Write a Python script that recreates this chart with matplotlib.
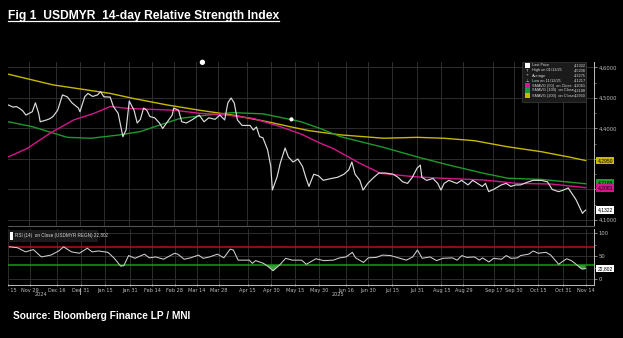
import numpy as np
import pandas as pd
import matplotlib
matplotlib.use("Agg")
import matplotlib.pyplot as plt
from matplotlib.patches import Rectangle
from matplotlib.transforms import Bbox, TransformedBbox, blended_transform_factory
from matplotlib.lines import Line2D

# USDMYR daily close (sampled)
price_dates = [
    "2024-11-16", "2024-11-19", "2024-11-21", "2024-11-23", "2024-11-25", "2024-11-27",
    "2024-12-01", "2024-12-03", "2024-12-05", "2024-12-06", "2024-12-10", "2024-12-12",
    "2024-12-14", "2024-12-17", "2024-12-20", "2024-12-23", "2024-12-26", "2024-12-30",
    "2024-12-31", "2025-01-03", "2025-01-05", "2025-01-08", "2025-01-11", "2025-01-13",
    "2025-01-15", "2025-01-19", "2025-01-21", "2025-01-24", "2025-01-27", "2025-01-29",
    "2025-01-31", "2025-02-03", "2025-02-05", "2025-02-07", "2025-02-09", "2025-02-11",
    "2025-02-13", "2025-02-16", "2025-02-19", "2025-02-21", "2025-02-24", "2025-02-27",
    "2025-02-28", "2025-03-03", "2025-03-05", "2025-03-08", "2025-03-12", "2025-03-16",
    "2025-03-19", "2025-03-22", "2025-03-26", "2025-03-29", "2025-04-01", "2025-04-03",
    "2025-04-05", "2025-04-07", "2025-04-09", "2025-04-12", "2025-04-17", "2025-04-19",
    "2025-04-21", "2025-04-23", "2025-04-25", "2025-04-28", "2025-04-30", "2025-05-01",
    "2025-05-04", "2025-05-06", "2025-05-09", "2025-05-11", "2025-05-14", "2025-05-17",
    "2025-05-20", "2025-05-22", "2025-05-24", "2025-05-27", "2025-05-30", "2025-06-02",
    "2025-06-07", "2025-06-11", "2025-06-15", "2025-06-18", "2025-06-20", "2025-06-22",
    "2025-06-25", "2025-06-27", "2025-06-30", "2025-07-03", "2025-07-07", "2025-07-11",
    "2025-07-16", "2025-07-19", "2025-07-22", "2025-07-25", "2025-07-28", "2025-07-31",
    "2025-08-02", "2025-08-03", "2025-08-06", "2025-08-10", "2025-08-13", "2025-08-15",
    "2025-08-17", "2025-08-20", "2025-08-25", "2025-08-28", "2025-09-01", "2025-09-04",
    "2025-09-07", "2025-09-10", "2025-09-12", "2025-09-14", "2025-09-17", "2025-09-22",
    "2025-09-25", "2025-09-28", "2025-10-01", "2025-10-04", "2025-10-09", "2025-10-12",
    "2025-10-17", "2025-10-21", "2025-10-24", "2025-10-28", "2025-10-31", "2025-11-03",
    "2025-11-06", "2025-11-08", "2025-11-10", "2025-11-12", "2025-11-13", "2025-11-14",
]
price_close = [
    4.477, 4.470, 4.472, 4.466, 4.458, 4.444,
    4.455, 4.484, 4.450, 4.422, 4.428, 4.432,
    4.439, 4.460, 4.510, 4.504, 4.484, 4.467,
    4.455, 4.504, 4.515, 4.505, 4.510, 4.5208,
    4.504, 4.503, 4.472, 4.450, 4.373, 4.395,
    4.490, 4.460, 4.418, 4.430, 4.467, 4.460,
    4.439, 4.435, 4.418, 4.400, 4.422, 4.444,
    4.467, 4.460, 4.422, 4.418, 4.430, 4.444,
    4.422, 4.435, 4.430, 4.444, 4.428, 4.484,
    4.500, 4.484, 4.428, 4.410, 4.410, 4.395,
    4.405, 4.373, 4.370, 4.330, 4.275, 4.198,
    4.242, 4.287, 4.336, 4.307, 4.290, 4.300,
    4.275, 4.240, 4.210, 4.250, 4.245, 4.230,
    4.236, 4.240, 4.250, 4.264, 4.290, 4.250,
    4.230, 4.198, 4.220, 4.236, 4.254, 4.254,
    4.250, 4.240, 4.225, 4.220, 4.240, 4.270,
    4.280, 4.240, 4.230, 4.236, 4.220, 4.198,
    4.220, 4.230, 4.220, 4.230, 4.215, 4.230,
    4.220, 4.210, 4.220, 4.193, 4.200, 4.215,
    4.220, 4.210, 4.215, 4.215, 4.225, 4.230,
    4.230, 4.225, 4.200, 4.193, 4.198, 4.205,
    4.182, 4.166, 4.144, 4.1217, 4.128, 4.1322,
]

# simple moving averages (50 / 100 / 200 day)
sma50_dates = ["2024-11-16", "2024-11-28", "2024-12-12", "2024-12-27", "2025-01-09", "2025-01-19",
               "2025-01-30", "2025-02-13", "2025-02-28", "2025-03-16", "2025-04-02", "2025-04-19",
               "2025-05-06", "2025-05-19", "2025-05-31", "2025-06-08", "2025-06-25", "2025-07-08",
               "2025-07-29", "2025-08-15", "2025-09-11", "2025-10-02", "2025-10-23", "2025-11-14"]
sma50_vals = [4.307, 4.335, 4.384, 4.428, 4.450, 4.472,
              4.466, 4.463, 4.460, 4.450, 4.444, 4.433,
              4.406, 4.382, 4.352, 4.335, 4.286, 4.253,
              4.242, 4.237, 4.231, 4.220, 4.218, 4.2061]

sma100_dates = ["2024-11-16", "2024-12-01", "2024-12-23", "2025-01-07", "2025-01-25", "2025-02-07",
                "2025-02-19", "2025-03-04", "2025-03-21", "2025-04-06", "2025-04-25", "2025-05-12",
                "2025-05-19", "2025-05-31", "2025-06-13", "2025-07-10", "2025-07-31", "2025-08-20",
                "2025-09-11", "2025-09-26", "2025-10-17", "2025-11-14"]
sma100_vals = [4.422, 4.406, 4.371, 4.368, 4.379, 4.390,
               4.411, 4.433, 4.444, 4.452, 4.448, 4.430,
               4.422, 4.400, 4.373, 4.338, 4.307, 4.280,
               4.253, 4.237, 4.233, 4.2188]

sma200_dates = ["2024-11-16", "2024-12-14", "2025-01-19", "2025-02-03", "2025-02-24", "2025-03-16",
                "2025-04-06", "2025-04-28", "2025-05-12", "2025-05-24", "2025-06-13", "2025-07-10",
                "2025-07-31", "2025-08-17", "2025-09-05", "2025-09-26", "2025-10-17", "2025-11-03",
                "2025-11-14"]
sma200_vals = [4.578, 4.543, 4.515, 4.498, 4.477, 4.460,
               4.444, 4.422, 4.406, 4.393, 4.379, 4.368,
               4.371, 4.368, 4.360, 4.340, 4.324, 4.307,
               4.2950]

# 14-day RSI
rsi_dates = [
    "2024-11-16", "2024-11-21", "2024-11-26", "2024-12-01", "2024-12-06", "2024-12-12",
    "2024-12-17", "2024-12-20", "2024-12-25", "2024-12-30", "2025-01-04", "2025-01-07",
    "2025-01-11", "2025-01-17", "2025-01-21", "2025-01-25", "2025-01-27", "2025-01-30",
    "2025-02-03", "2025-02-09", "2025-02-12", "2025-02-16", "2025-02-21", "2025-02-28",
    "2025-03-02", "2025-03-06", "2025-03-10", "2025-03-15", "2025-03-18", "2025-03-22",
    "2025-03-27", "2025-03-31", "2025-04-04", "2025-04-06", "2025-04-09", "2025-04-16",
    "2025-04-18", "2025-04-20", "2025-04-25", "2025-04-28", "2025-05-01", "2025-05-05",
    "2025-05-09", "2025-05-13", "2025-05-19", "2025-05-22", "2025-05-28", "2025-06-02",
    "2025-06-08", "2025-06-12", "2025-06-16", "2025-06-20", "2025-06-22", "2025-06-27",
    "2025-06-30", "2025-07-05", "2025-07-09", "2025-07-14", "2025-07-19", "2025-07-24",
    "2025-07-28", "2025-07-31", "2025-08-03", "2025-08-08", "2025-08-12", "2025-08-16",
    "2025-08-22", "2025-08-25", "2025-08-28", "2025-08-31", "2025-09-05", "2025-09-08",
    "2025-09-10", "2025-09-14", "2025-09-17", "2025-09-22", "2025-09-25", "2025-09-28",
    "2025-10-02", "2025-10-04", "2025-10-09", "2025-10-12", "2025-10-15", "2025-10-20",
    "2025-10-23", "2025-10-28", "2025-10-30", "2025-11-02", "2025-11-05", "2025-11-08",
    "2025-11-11", "2025-11-12", "2025-11-13", "2025-11-14",
]
rsi_vals = [
    70, 68, 59, 64, 48, 52,
    61, 70, 59, 56, 67, 59,
    61, 58, 45, 28, 29, 51,
    45, 54, 46, 48, 43, 56,
    54, 43, 46, 52, 45, 48,
    54, 46, 65, 63, 41, 41,
    34, 40, 34, 27, 18, 30,
    45, 41, 41, 32, 44, 40,
    41, 46, 48, 58, 46, 36,
    46, 47, 52, 51, 46, 41,
    48, 63, 45, 48, 40, 45,
    46, 41, 51, 47, 48, 41,
    46, 37, 45, 43, 51, 45,
    46, 51, 54, 61, 56, 58,
    52, 32, 37, 44, 40, 32,
    23, 21.5, 22, 22.802,
]

# chart event markers
event_dates = ["2025-03-18", "2025-05-13"]
event_vals = [4.617, 4.430]

tick_dates = ["2024-11-15", "2024-11-29", "2024-12-16", "2024-12-31", "2025-01-15", "2025-01-31",
              "2025-02-14", "2025-02-28", "2025-03-14", "2025-03-28", "2025-04-15", "2025-04-30",
              "2025-05-15", "2025-05-30", "2025-06-16", "2025-06-30", "2025-07-15", "2025-07-31",
              "2025-08-15", "2025-08-29", "2025-09-17", "2025-09-30", "2025-10-15", "2025-10-31",
              "2025-11-14"]
tick_labels = ["Nov 15", "Nov 29", "Dec 16", "Dec 31", "Jan 15", "Jan 31", "Feb 14", "Feb 28",
               "Mar 14", "Mar 28", "Apr 15", "Apr 30", "May 15", "May 30", "Jun 16", "Jun 30",
               "Jul 15", "Jul 31", "Aug 15", "Aug 29", "Sep 17", "Sep 30", "Oct 15", "Oct 31",
               "Nov 14"]

legend_rows = [("Last Price", "4,1322"), ("High on 01/13/25", "4,5208"), ("Average", "4,3275"),
               ("Low on 11/12/25", "4,1217"), ("SMAVG (50)  on Close", "4,2061"),
               ("SMAVG (100)  on Close", "4,2188"), ("SMAVG (200)  on Close", "4,2950")]

PRICE_C = "#dcdcdc"
C50 = "#d4178a"
C100 = "#1c9a2a"
C200 = "#c9b800"
GRID = "#2e2e2e"
AXC = "#bdbdbd"
SMALL = ["Liberation Sans", "DejaVu Sans"]

W, H = 623, 338


def px_rect(x0, y0, x1, y1):
    return [x0 / W, 1 - y1 / H, (x1 - x0) / W, (y1 - y0) / H]


def fmt(v, nd=4):
    return f"{v:.{nd}f}".replace(".", ",")


fig = plt.figure(figsize=(W / 100, H / 100), dpi=100, facecolor="black")
ax = fig.add_axes(px_rect(8, 62, 594, 226))
rx = fig.add_axes(px_rect(8, 229, 594, 285))

pdates = pd.to_datetime(price_dates)
rdates = pd.to_datetime(rsi_dates)
tdates = pd.to_datetime(tick_dates)
xmin, xmax = pd.Timestamp("2024-11-15 18:00"), pd.Timestamp("2025-11-19 06:00")

for a in (ax, rx):
    a.set_facecolor("black")
    a.set_xlim(xmin, xmax)
    for d in tdates:
        a.axvline(d, color=GRID, lw=0.7, zorder=0)
    for s in ("left", "top"):
        a.spines[s].set_visible(False)
    a.spines["right"].set_color(AXC)
    a.spines["right"].set_linewidth(0.7)
    a.yaxis.tick_right()
    a.tick_params(axis="y", colors=AXC, labelsize=3.8, length=2, width=0.5, pad=1.5)
    a.tick_params(axis="y", which="minor", colors=AXC, length=1.2, width=0.4)

# ---- price panel ----
ax.set_ylim(4.0803, 4.618)
yt = [4.1, 4.2, 4.3, 4.4, 4.5, 4.6]
ax.set_yticks(yt)
# 4.2 / 4.3 labels sit under the value tags
ax.set_yticklabels(["" if v in (4.2, 4.3) else fmt(v) for v in yt])
ax.set_yticks(np.arange(4.15, 4.6, 0.1), minor=True)
for v in yt:
    ax.axhline(v, color=GRID, lw=0.7, zorder=0)
ax.spines["bottom"].set_color("#555555")
ax.set_xticks([])

ax.plot(pd.to_datetime(sma200_dates), sma200_vals, color=C200, lw=1.0, zorder=2)
ax.plot(pd.to_datetime(sma100_dates), sma100_vals, color=C100, lw=1.0, zorder=2)
ax.plot(pd.to_datetime(sma50_dates), sma50_vals, color=C50, lw=1.0, zorder=2)
ax.plot(pdates, price_close, color=PRICE_C, lw=0.85, zorder=3)
ax.scatter(pd.to_datetime(event_dates), event_vals, s=[8, 4], color="white", zorder=4, clip_on=False)

# value tags on the right axis
tr = blended_transform_factory(ax.transAxes, ax.transData)
tags = [(sma200_vals[-1], 0.0, C200), (sma100_vals[-1], 0.004, C100),
        (sma50_vals[-1], -0.002, C50), (price_close[-1], 0.0, "white")]
for val, nudge, fc in tags:
    ax.text(1.006, val + nudge, fmt(val), transform=tr, fontsize=3.6, color="black", va="center",
            ha="left", zorder=6, clip_on=False, family=SMALL,
            bbox=dict(boxstyle="square,pad=0.25", fc=fc, ec="none"))

# legend box
ax.add_patch(Rectangle((0.877, 0.757), 0.11, 0.243, transform=ax.transAxes, fc="#1b1b1b",
                       ec="#3a3a3a", lw=0.5, zorder=5))
icon_colors = ["white", None, None, None, C50, C100, C200]
icon_chars = [None, "T", "+", "\u22a5", None, None, None]
for i, (lab, val) in enumerate(legend_rows):
    ypx = 65.5 + i * 5.0
    yf = (226 - ypx) / 164
    if icon_colors[i] is not None:
        ax.add_patch(Rectangle(((525 - 8) / 586, yf - 0.013), 5 / 586, 0.026,
                               transform=ax.transAxes, fc=icon_colors[i], ec="none", zorder=6))
    else:
        ax.text((527.5 - 8) / 586, yf, icon_chars[i], transform=ax.transAxes, fontsize=2.8,
                color="#cccccc", ha="center", va="center", zorder=6)
    ax.text((532 - 8) / 586, yf, lab, transform=ax.transAxes, fontsize=2.8, color="#d8d8d8",
            ha="left", va="center", zorder=6, family=SMALL)
    ax.text((586 - 8) / 586, yf, val, transform=ax.transAxes, fontsize=2.8, color="#d8d8d8",
            ha="right", va="center", zorder=6, family=SMALL)

# ---- RSI panel ----
rx.set_ylim(-13, 108.7)
rx.set_yticks([0, 50, 100])
rx.set_yticks([25, 75], minor=True)
for v in (0, 50, 100):
    rx.axhline(v, color=GRID, lw=0.7, zorder=0)
rx.spines["top"].set_color("#555555")
rx.spines["bottom"].set_color(AXC)
rx.spines["bottom"].set_linewidth(0.7)
rsi = np.array(rsi_vals, dtype=float)
rx.axhline(70, color="#b01515", lw=1.1, zorder=2)
rx.axhline(30, color="#12a012", lw=1.1, zorder=2)
rx.fill_between(rdates, rsi, 30, where=rsi < 30, interpolate=True, color="#3a9a3a", lw=0, zorder=2)
rx.fill_between(rdates, rsi, 70, where=rsi > 70, interpolate=True, color="#b01515", lw=0, zorder=2)
rx.plot(rdates, rsi, color="#cfcfcf", lw=0.75, zorder=3)

rx.add_patch(Rectangle((0, 0.77), (98 - 8) / 586, 0.21, transform=rx.transAxes, fc="#1b1b1b",
                       ec="none", zorder=5))
rx.add_patch(Rectangle((2 / 586, 0.80), 3 / 586, 0.15, transform=rx.transAxes, fc="white",
                       ec="none", zorder=6))
rx.text(7 / 586, 0.875, "RSI (14)  on Close (USDMYR REGN) " + fmt(rsi_vals[-1], 3),
        transform=rx.transAxes, fontsize=3.3, color="#d8d8d8", va="center", zorder=6, family=SMALL)

trr = blended_transform_factory(rx.transAxes, rx.transData)
rx.text(1.006, rsi_vals[-1], fmt(rsi_vals[-1], 3), transform=trr, fontsize=3.6, color="black",
        va="center", ha="left", zorder=6, clip_on=False, family=SMALL,
        bbox=dict(boxstyle="square,pad=0.25", fc="white", ec="none"))

rx.set_xticks(tdates)
rx.set_xticklabels(tick_labels)
rx.tick_params(axis="x", colors=AXC, labelsize=3.6, length=2, width=0.5, pad=1.0, direction="inout")
clip = TransformedBbox(Bbox.from_extents(8 / W, 0, 1, 1), fig.transFigure)
for lab in rx.get_xticklabels():
    lab.set_clip_on(True)
    lab.set_clip_box(clip)

# year labels under the date axis
for ytxt, d in (("2024", "2024-12-06"), ("2025", "2025-06-11")):
    rx.text(pd.Timestamp(d), -0.13, ytxt, transform=blended_transform_factory(rx.transData, rx.transAxes),
            fontsize=3.6, color=AXC, ha="center", va="top", clip_on=False)
fig.add_artist(Line2D([80 / W, 80 / W], [1 - 294 / H, 1 - 288 / H], color=AXC, lw=0.6))

# ---- title and source ----
title = fig.text(8 / W, 1 - 19 / H, "Fig 1  USDMYR  14-day Relative Strength Index",
                 fontsize=8.7, fontweight="bold", color="white", va="baseline", ha="left",
                 family=SMALL)
fig.text(13 / W, 1 - 319 / H, "Source: Bloomberg Finance LP / MNI", fontsize=7.3,
         fontweight="bold", color="white", va="baseline", ha="left", family=SMALL)

fig.canvas.draw()
bb = title.get_window_extent(fig.canvas.get_renderer())
uy = 1 - 20.8 / H
fig.add_artist(Line2D([bb.x0 / W, bb.x1 / W], [uy, uy], color="white", lw=0.9))

fig.savefig("out.png", dpi=100, facecolor="black")
